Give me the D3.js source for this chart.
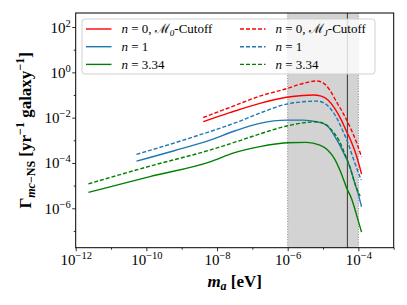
<!DOCTYPE html>
<html>
<head>
<meta charset="utf-8">
<script src="https://cdn.jsdelivr.net/npm/d3@7"></script>
<style>
body { margin: 0; background: #fff; }
text { font-family: "Liberation Serif", "DejaVu Serif", serif; fill: #000; }
</style>
</head>
<body>
<svg class="plot" width="407" height="305"></svg>
<script>
// curves: [m_a (eV), rate (yr^-1 galaxy^-1)]
var redSolid = [[4.07e-9, 6.61e-3], [2.29e-8, 1.66e-2], [1.62e-7, 4.27e-2], [9.33e-7, 7.94e-2],
  [2.69e-6, 9.55e-2], [5.25e-6, 1.0e-1], [8.91e-6, 8.91e-2], [1.38e-5, 6.03e-2], [2.14e-5, 2.57e-2],
  [3.31e-5, 7.76e-3], [4.57e-5, 2.57e-3], [6.31e-5, 8.71e-4], [8.71e-5, 2.24e-4], [1.23e-4, 3.24e-5]];
var redDashed = [[4.07e-9, 1.02e-2], [2.29e-8, 2.82e-2], [1.62e-7, 8.91e-2], [9.33e-7, 0.191],
  [2.69e-6, 0.324], [6.46e-6, 0.417], [1.0e-5, 0.347], [1.55e-5, 0.166], [2.40e-5, 5.01e-2],
  [3.72e-5, 1.55e-2], [5.75e-5, 3.98e-3], [8.71e-5, 8.71e-4], [1.23e-4, 1.82e-4]];
var blueSolid = [[5.25e-11, 1.20e-4], [6.46e-10, 3.55e-4], [6.31e-9, 1.02e-3], [3.16e-8, 2.57e-3],
  [1.62e-7, 5.62e-3], [9.33e-7, 7.76e-3], [2.69e-6, 7.76e-3], [6.46e-6, 6.61e-3], [1.26e-5, 4.68e-3],
  [1.91e-5, 2.04e-3], [2.63e-5, 8.71e-4], [3.72e-5, 3.09e-4], [5.75e-5, 6.76e-5], [7.94e-5, 1.26e-5],
  [9.77e-5, 4.57e-6], [1.23e-4, 1.17e-6]];
var blueDashed = [[5.25e-11, 2.40e-4], [1.70e-9, 1.26e-3], [4.47e-8, 7.08e-3], [1.62e-7, 1.58e-2],
  [9.33e-7, 3.98e-2], [2.69e-6, 5.01e-2], [6.46e-6, 5.37e-2], [1.12e-5, 4.27e-2], [1.74e-5, 2.19e-2],
  [2.63e-5, 7.76e-3], [3.72e-5, 2.40e-3], [5.13e-5, 7.41e-4], [7.08e-5, 1.66e-4], [1.20e-4, 1.78e-5]];
var greenSolid = [[2.29e-12, 5.01e-6], [1.26e-10, 2.51e-5], [6.31e-9, 1.12e-4], [3.16e-8, 2.88e-4],
  [1.62e-7, 5.25e-4], [9.33e-7, 7.76e-4], [3.39e-6, 8.13e-4], [8.13e-6, 6.17e-4], [1.35e-5, 3.72e-4],
  [2.14e-5, 1.48e-4], [3.16e-5, 3.98e-5], [4.68e-5, 7.76e-6], [6.46e-5, 2.57e-6], [8.91e-5, 5.01e-7],
  [1.23e-4, 8.91e-8]];
var greenDashed = [[2.29e-12, 1.20e-5], [1.26e-10, 7.24e-5], [6.31e-9, 3.72e-4], [4.47e-8, 9.77e-4],
  [1.62e-7, 1.91e-3], [9.33e-7, 4.27e-3], [2.69e-6, 5.89e-3], [6.46e-6, 6.61e-3], [1.26e-5, 4.68e-3],
  [1.91e-5, 2.40e-3], [2.95e-5, 8.71e-4], [4.07e-5, 2.63e-4], [5.75e-5, 6.76e-5], [7.94e-5, 1.26e-5],
  [1.12e-4, 3.47e-6]];

var bandRange = [1e-6, 1e-4];
var markerMass = 4.9e-5;

var xMajor = [1e-12, 1e-10, 1e-8, 1e-6, 1e-4],
    xMinor = [1e-11, 1e-9, 1e-7, 1e-5, 1e-3],
    yMajor = [1e2, 1, 1e-2, 1e-4, 1e-6],
    yMinor = [1e1, 1e-1, 1e-3, 1e-5, 1e-7];

var series = [
  {data: redSolid, color: "#ff0000", dash: null, label: ["n", " = 0, ", "ℳ", "0", "-Cutoff"]},
  {data: blueSolid, color: "#1f77b4", dash: null, label: ["n", " = 1"]},
  {data: greenSolid, color: "#008000", dash: null, label: ["n", " = 3.34"]},
  {data: redDashed, color: "#ff0000", dash: "4,2", label: ["n", " = 0, ", "ℳ", "J", "-Cutoff"]},
  {data: blueDashed, color: "#1f77b4", dash: "4,2", label: ["n", " = 1"]},
  {data: greenDashed, color: "#008000", dash: "4,2", label: ["n", " = 3.34"]}
];

var svg = d3.select(".plot"),
    margin = {top: 13, right: 13.3, bottom: 57.3, left: 75.7},
    width = +svg.attr("width") - margin.left - margin.right,
    height = +svg.attr("height") - margin.top - margin.bottom;

var x = d3.scaleLog().domain([1e-12, 1e-3]).range([0, width]),
    y = d3.scaleLog().domain([1.82e-8, 4.17e2]).range([height, 0]);

var g = svg.append("g")
    .attr("transform", "translate(" + margin.left + "," + margin.top + ")");

// shaded mass window
g.append("rect")
    .attr("x", x(bandRange[0]))
    .attr("y", 0)
    .attr("width", x(bandRange[1]) - x(bandRange[0]))
    .attr("height", height)
    .style("fill", "#d3d3d3");

g.selectAll(".band-edge")
    .data(bandRange)
    .enter().append("line")
    .attr("x1", function(d) { return x(d); })
    .attr("x2", function(d) { return x(d); })
    .attr("y1", 0)
    .attr("y2", height)
    .style("stroke", "#777")
    .style("stroke-width", 0.9)
    .style("stroke-dasharray", "1,1.6");

g.append("line")
    .attr("x1", x(markerMass))
    .attr("x2", x(markerMass))
    .attr("y1", 0)
    .attr("y2", height)
    .style("stroke", "#444")
    .style("stroke-width", 1.1);

// curves
var line = d3.line()
    .x(function(d) { return x(d[0]); })
    .y(function(d) { return y(d[1]); })
    .curve(d3.curveMonotoneX);

g.selectAll(".curve")
    .data(series)
    .enter().append("path")
    .attr("class", "curve")
    .attr("d", function(d) { return line(d.data); })
    .style("fill", "none")
    .style("stroke", function(d) { return d.color; })
    .style("stroke-width", 1.4)
    .style("stroke-dasharray", function(d) { return d.dash; });

// axes
function powLabel(sel, anchor) {
  sel.each(function(d) {
    var t = d3.select(this).text(null);
    var e = Math.round(Math.log10(d));
    t.append("tspan").text("10");
    t.append("tspan")
        .attr("dy", -6)
        .style("font-size", "10.5px")
        .text(e < 0 ? "\u2212" + (-e) : e);
  });
}

var xAxis = g.append("g")
    .attr("transform", "translate(0," + height + ")")
    .call(d3.axisBottom(x).tickValues(xMajor).tickSize(3.5).tickPadding(5).tickFormat(function() { return ""; }));
xAxis.selectAll(".tick text")
    .style("font-size", "15px")
    .attr("y", 17.5)
    .attr("dy", 0)
    .call(powLabel);

g.append("g")
    .attr("transform", "translate(0," + height + ")")
    .call(d3.axisBottom(x).tickValues(xMinor).tickSize(2).tickFormat(""));

var yAxis = g.append("g")
    .call(d3.axisLeft(y).tickValues(yMajor).tickSize(3.5).tickPadding(5).tickFormat(function() { return ""; }));
yAxis.selectAll(".tick text")
    .style("font-size", "15px")
    .attr("x", -5)
    .attr("dy", "0.33em")
    .call(powLabel);

g.append("g")
    .call(d3.axisLeft(y).tickValues(yMinor).tickSize(2).tickFormat(""));

g.selectAll(".domain").remove();
g.selectAll(".tick line").style("stroke", "#000").style("stroke-width", 0.8);

g.append("rect")
    .attr("width", width)
    .attr("height", height)
    .style("fill", "none")
    .style("stroke", "#000")
    .style("stroke-width", 1);

// axis titles
var xt = svg.append("text")
    .attr("x", margin.left + width / 2)
    .attr("y", 287)
    .style("font-size", "17px")
    .style("font-weight", "bold")
    .style("text-anchor", "middle");
xt.append("tspan").style("font-style", "italic").text("m");
xt.append("tspan").attr("dy", 3).style("font-size", "12px").style("font-style", "italic").text("a");
xt.append("tspan").attr("dy", -3).text(" [eV]");

var yt = svg.append("text")
    .attr("transform", "translate(31," + (margin.top + height / 2) + ") rotate(-90)")
    .style("font-size", "17px")
    .style("font-weight", "bold")
    .style("text-anchor", "middle");
yt.append("tspan").text("Γ");
yt.append("tspan").attr("dy", 4).style("font-size", "12px").style("font-style", "italic").text("mc");
yt.append("tspan").style("font-size", "12px").text("−NS");
yt.append("tspan").attr("dy", -4).text(" [yr");
yt.append("tspan").attr("dy", -7).style("font-size", "12px").text("−1");
yt.append("tspan").attr("dy", 7).text(" galaxy");
yt.append("tspan").attr("dy", -7).style("font-size", "12px").text("−1");
yt.append("tspan").attr("dy", 7).text("]");

// legend
var legend = g.append("g")
    .attr("transform", "translate(" + (82 - margin.left) + "," + (19 - margin.top) + ")");

legend.append("rect")
    .attr("width", 293)
    .attr("height", 55)
    .attr("rx", 3)
    .style("fill", "#fff")
    .style("fill-opacity", 0.8)
    .style("stroke", "#ccc")
    .style("stroke-width", 0.9);

var item = legend.selectAll(".item")
    .data(series)
    .enter().append("g")
    .attr("class", "item")
    .attr("transform", function(d, i) {
      return "translate(" + (i < 3 ? 4 : 158) + "," + (10 + (i % 3) * 17.7) + ")";
    });

item.append("line")
    .attr("x1", 0)
    .attr("x2", 25.5)
    .style("stroke", function(d) { return d.color; })
    .style("stroke-width", 1.4)
    .style("stroke-dasharray", function(d) { return d.dash; });

item.append("text")
    .attr("x", 35.5)
    .attr("dy", "0.33em")
    .style("font-size", "13px")
    .each(function(d) {
      var t = d3.select(this);
      var p = d.label;
      t.append("tspan").style("font-style", "italic").text(p[0]);
      t.append("tspan").text(p[1]);
      if (p.length > 2) {
        t.append("tspan").text(p[2]);
        t.append("tspan").attr("dy", 3).style("font-size", "9px").style("font-style", "italic").text(p[3]);
        t.append("tspan").attr("dy", -3).text(p[4]);
      }
    });
</script>
</body>
</html>
